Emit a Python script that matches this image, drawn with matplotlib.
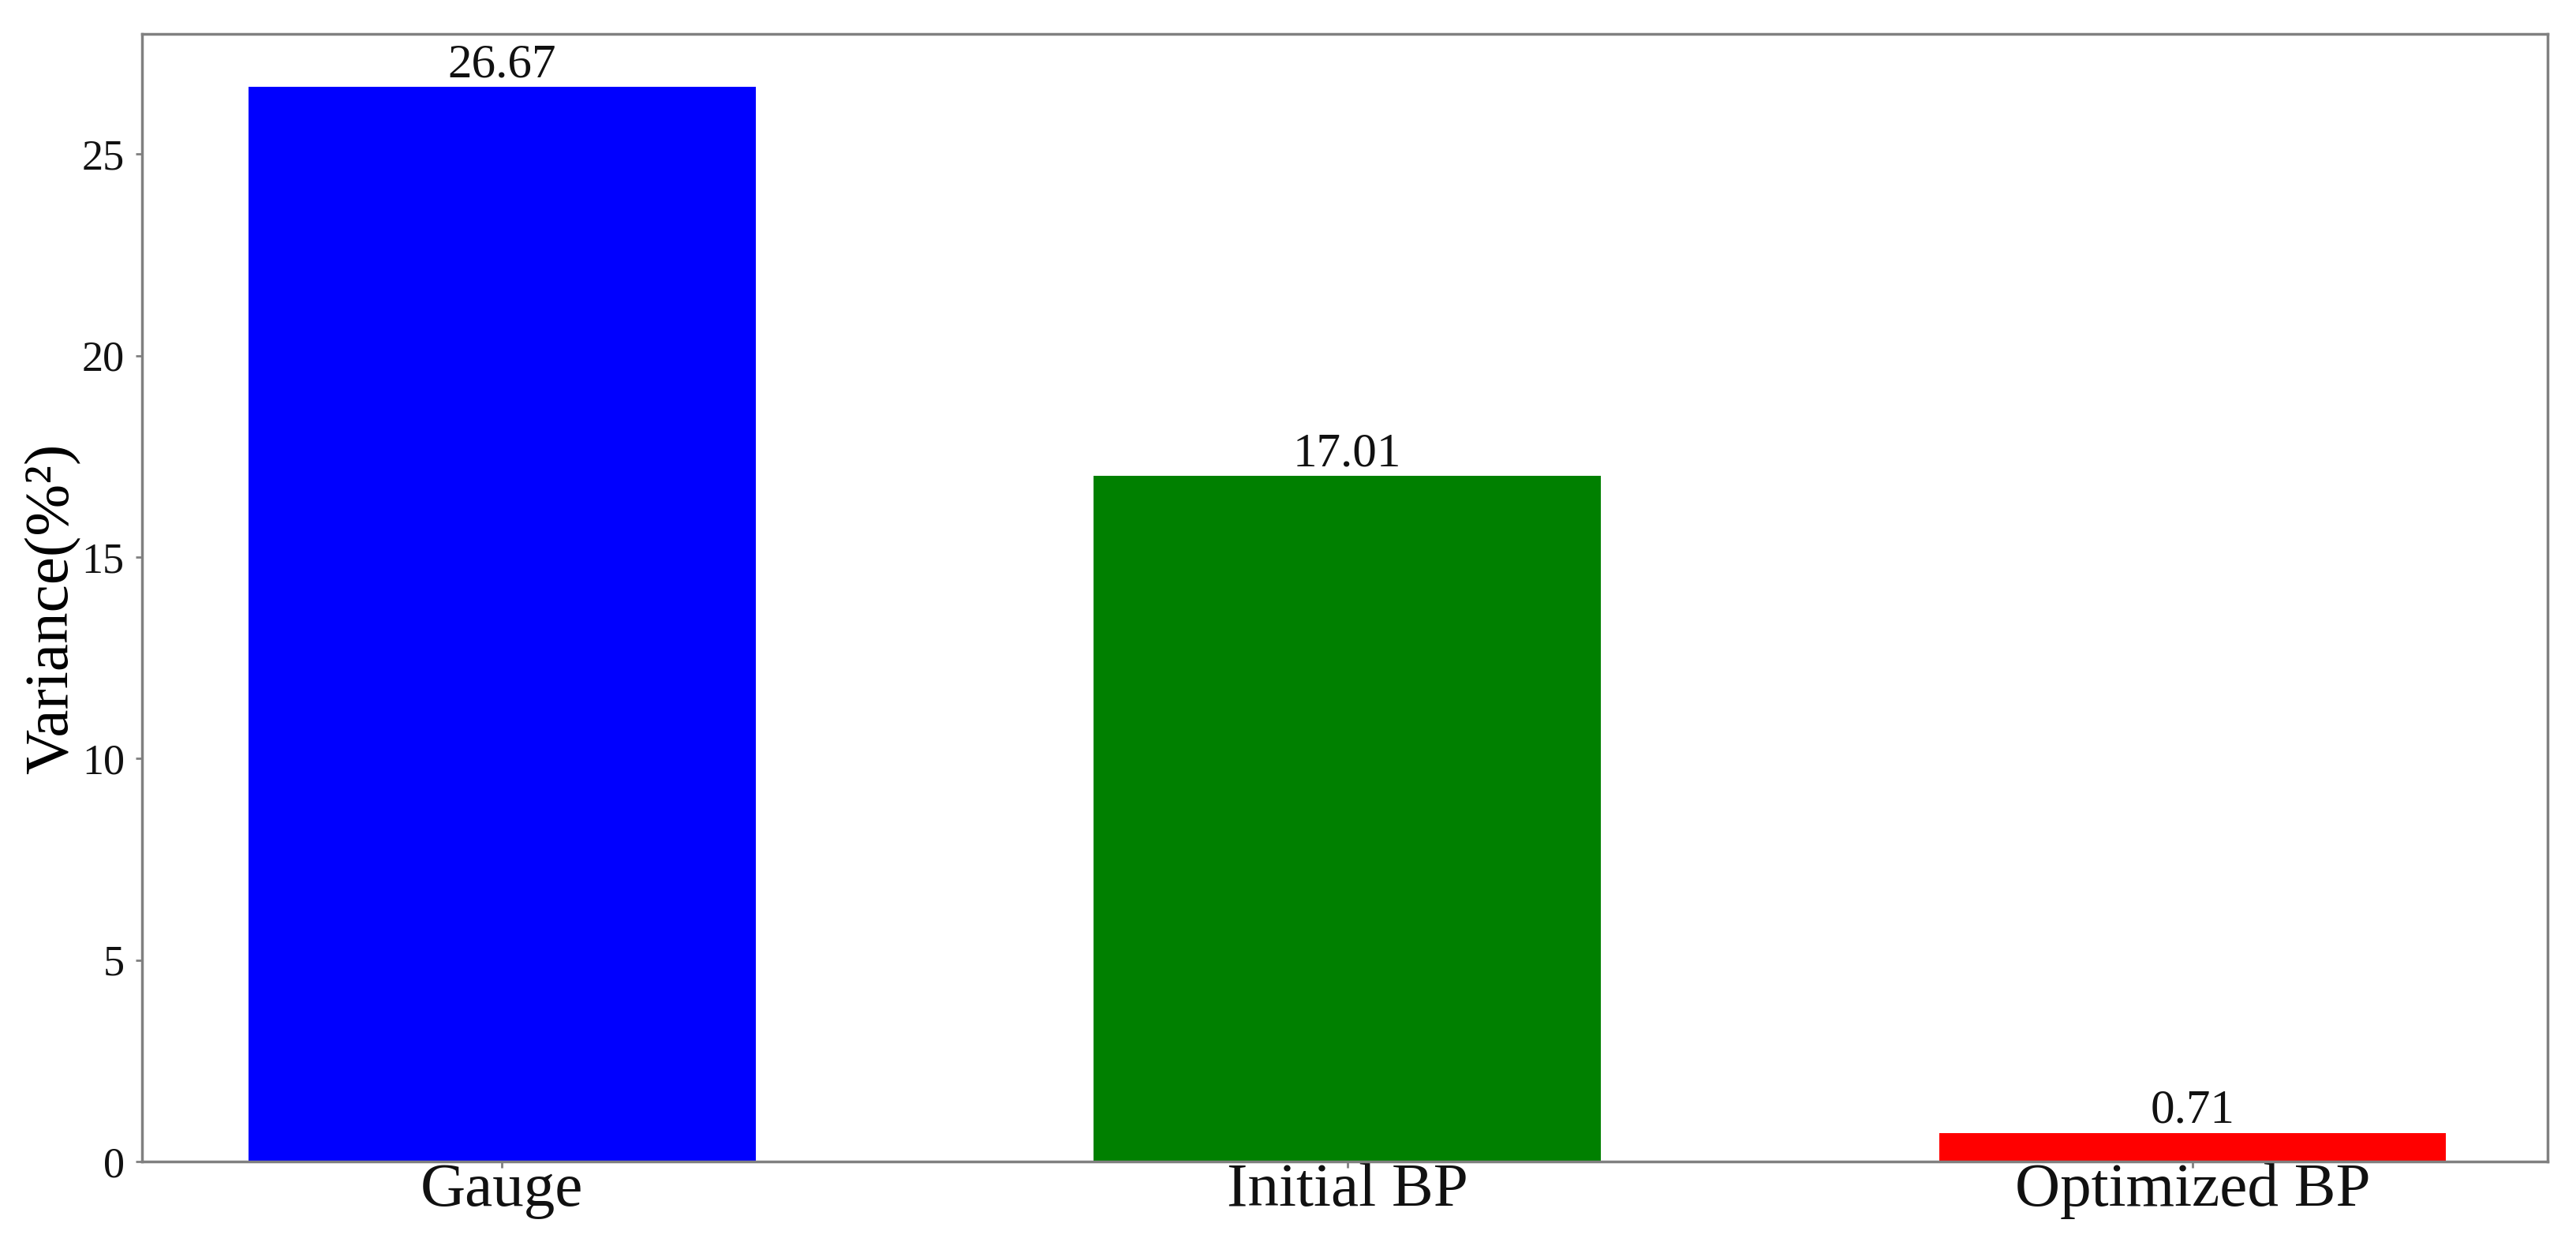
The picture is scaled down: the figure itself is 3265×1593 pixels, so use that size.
import matplotlib
matplotlib.use("Agg")
import matplotlib.pyplot as plt

categories = ["Gauge", "Initial BP", "Optimized BP"]
values = [26.67, 17.01, 0.71]
labels = ["26.67", "17.01", "0.71"]
colors = ["#0000ff", "#008000", "#ff0000"]
yticks = [0, 5, 10, 15, 20, 25]

plt.rcParams['font.family'] = ['Liberation Serif', 'DejaVu Serif']

W, H = 3266, 1593
fig = plt.figure(figsize=(W / 100, H / 100), dpi=100)
left, right, top, bottom = 180, 3229, 43, 1472
ax = fig.add_axes([left / W, 1 - bottom / H, (right - left) / W, (bottom - top) / H])

x = list(range(len(categories)))
ax.bar(x, values, width=0.6, color=colors)
for xi, v, lab in zip(x, values, labels):
    ax.text(xi, v + 0.25, lab, ha='center', va='baseline', fontsize=44, color='#111111')

ax.set_xlim(-0.426, 2.42)
ax.set_ylim(0, 27.98)
ax.set_xticks(x)
ax.set_xticklabels(categories, fontsize=57)
ax.set_yticks(yticks)
ax.set_yticklabels([str(t) for t in yticks], fontsize=39)
ax.set_ylabel("Variance(%²)", fontsize=57)
ax.yaxis.set_label_coords(-0.0255, 0.49)

for s in ax.spines.values():
    s.set_color('#808080')
    s.set_linewidth(2.5)
ax.tick_params(axis='both', colors='#808080', length=6, width=2, labelcolor='#111111')
ax.tick_params(axis='y', pad=10)
ax.tick_params(axis='x', pad=-5)

fig.savefig("out.png", dpi=100, facecolor='white')
